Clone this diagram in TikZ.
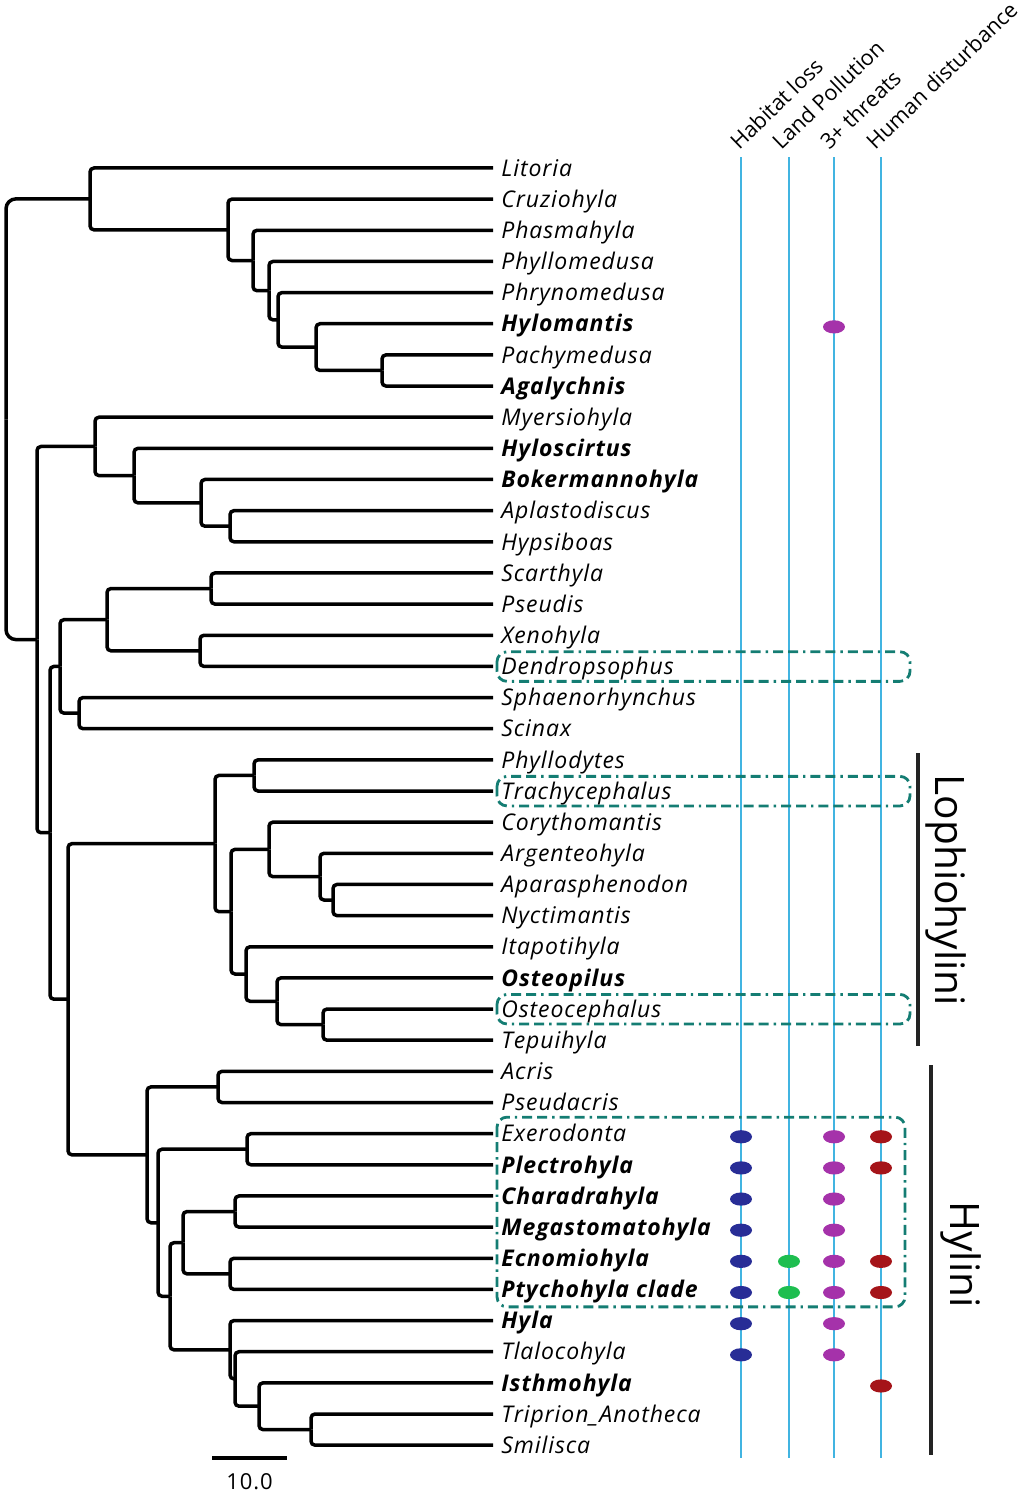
\documentclass[tikz,border=0pt]{standalone}
\usepackage{fontspec}
\setmainfont{Open Sans}[LetterSpace=4]
\newfontfamily\headfont{Open Sans}
\usepackage{tikz}
\usetikzlibrary{calc, positioning}
\definecolor{threatcol}{RGB}{65,180,225}
\definecolor{boxcol}{RGB}{20,125,115}
\definecolor{barcol}{RGB}{35,35,35}
\definecolor{dotblue}{RGB}{40,45,150}
\definecolor{dotgreen}{RGB}{30,190,80}
\definecolor{dotpurple}{RGB}{165,50,170}
\definecolor{dotred}{RGB}{165,20,25}

\begin{document}
\begin{tikzpicture}[x=0.5pt, y=-15.575pt,
    branch/.style={line width=1.75pt, rounded corners=2pt},
    taxon/.style={anchor=west, inner xsep=4pt, inner ysep=0pt, text height=8.2pt, text depth=0pt, font=\fontsize{11.5}{13}\selectfont\itshape},
    taxonb/.style={taxon, font=\fontsize{11.5}{13}\selectfont\bfseries\itshape},
    threat/.style={line width=1pt, draw=threatcol},
    head/.style={anchor=base west, rotate=44, inner sep=0pt, font=\headfont\fontsize{10.8}{12}\selectfont},
    cladebox/.style={draw=boxcol, line width=1.4pt, rounded corners=5pt, dash pattern=on 5pt off 2.5pt on 5pt off 2.5pt on 1.2pt off 2.5pt},
    cladebar/.style={line width=2.2pt, draw=barcol},
    cladename/.style={anchor=base, rotate=-90, inner sep=0pt, font=\headfont\fontsize{20.3}{24}\selectfont}]

            % Khung hình
            \useasboundingbox (0,-5.393) rectangle (1024,42.504);

            % Đường đe dọa và tiêu đề
            \foreach \x in {741,789,834,881}
                \draw[threat] (\x,-0.35) -- (\x,41.41);
            \node[head] (hdhabitat) at (739,-0.55) {Habitat loss};
            \node[head] (hdland) at (781,-0.55) {Land Pollution};
            \node[head] (hdthree) at (829,-0.55) {3+ threats};
            \node[head] (hdhuman) at (875,-0.55) {Human disturbance};

            % Khung nét đứt
            \draw[cladebox] (497,15.53) rectangle (910,16.48);
            \draw[cladebox] (497,19.53) rectangle (910,20.48);
            \draw[cladebox] (497,26.53) rectangle (910,27.48);
            \draw[cladebox] (497,30.47) rectangle (905,36.56);

            % Tên các chi
            \node[taxon] (litoria) at (493,0) {Litoria};
            \node[taxon] (cruziohyla) at (493,1) {Cruziohyla};
            \node[taxon] (phasmahyla) at (493,2) {Phasmahyla};
            \node[taxon] (phyllomedusa) at (493,3) {Phyllomedusa};
            \node[taxon] (phrynomedusa) at (493,4) {Phrynomedusa};
            \node[taxonb] (hylomantis) at (493,5) {Hylomantis};
            \node[taxon] (pachymedusa) at (493,6) {Pachymedusa};
            \node[taxonb] (agalychnis) at (493,7) {Agalychnis};
            \node[taxon] (myersiohyla) at (493,8) {Myersiohyla};
            \node[taxonb] (hyloscirtus) at (493,9) {Hyloscirtus};
            \node[taxonb] (bokermannohyla) at (493,10) {Bokermannohyla};
            \node[taxon] (aplastodiscus) at (493,11) {Aplastodiscus};
            \node[taxon] (hypsiboas) at (493,12) {Hypsiboas};
            \node[taxon] (scarthyla) at (493,13) {Scarthyla};
            \node[taxon] (pseudis) at (493,14) {Pseudis};
            \node[taxon] (xenohyla) at (493,15) {Xenohyla};
            \node[taxon] (dendropsophus) at (493,16) {Dendropsophus};
            \node[taxon] (sphaenorhynchus) at (493,17) {Sphaenorhynchus};
            \node[taxon] (scinax) at (493,18) {Scinax};
            \node[taxon] (phyllodytes) at (493,19) {Phyllodytes};
            \node[taxon] (trachycephalus) at (493,20) {Trachycephalus};
            \node[taxon] (corythomantis) at (493,21) {Corythomantis};
            \node[taxon] (argenteohyla) at (493,22) {Argenteohyla};
            \node[taxon] (aparasphenodon) at (493,23) {Aparasphenodon};
            \node[taxon] (nyctimantis) at (493,24) {Nyctimantis};
            \node[taxon] (itapotihyla) at (493,25) {Itapotihyla};
            \node[taxonb] (osteopilus) at (493,26) {Osteopilus};
            \node[taxon] (osteocephalus) at (493,27) {Osteocephalus};
            \node[taxon] (tepuihyla) at (493,28) {Tepuihyla};
            \node[taxon] (acris) at (493,29) {Acris};
            \node[taxon] (pseudacris) at (493,30) {Pseudacris};
            \node[taxon] (exerodonta) at (493,31) {Exerodonta};
            \node[taxonb] (plectrohyla) at (493,32) {Plectrohyla};
            \node[taxonb] (charadrahyla) at (493,33) {Charadrahyla};
            \node[taxonb] (megastomatohyla) at (493,34) {Megastomatohyla};
            \node[taxonb] (ecnomiohyla) at (493,35) {Ecnomiohyla};
            \node[taxonb] (ptychohyla) at (493,36) {Ptychohyla clade};
            \node[taxonb] (hyla) at (493,37) {Hyla};
            \node[taxon] (tlalocohyla) at (493,38) {Tlalocohyla};
            \node[taxonb] (isthmohyla) at (493,39) {Isthmohyla};
            \node[taxon] (triprion) at (493,40) {Triprion\_Anotheca};
            \node[taxon] (smilisca) at (493,41) {Smilisca};

            % Các nút trong của cây
            \coordinate (root) at (6,8.07);
            \coordinate (pa1) at (90,0.99);
            \coordinate (pa2) at (228,1.985);
            \coordinate (pa3) at (253,2.97);
            \coordinate (pa4) at (269,3.94);
            \coordinate (pa5) at (278,4.875);
            \coordinate (pa6) at (316,5.75);
            \coordinate (pa7) at (382,6.5);
            \coordinate (hy) at (37,15.14);
            \coordinate (c1) at (95,8.94);
            \coordinate (c2) at (134,9.875);
            \coordinate (c3) at (201,10.75);
            \coordinate (c4) at (230,11.5);
            \coordinate (cc) at (50,21.34);
            \coordinate (d0) at (60,16);
            \coordinate (d1) at (107,14.5);
            \coordinate (d2) at (211,13.5);
            \coordinate (d3) at (200,15.5);
            \coordinate (d4) at (79,17.5);
            \coordinate (lh) at (68,26.685);
            \coordinate (l0) at (215,21.69);
            \coordinate (l1) at (254,19.5);
            \coordinate (l2) at (231,23.875);
            \coordinate (l3) at (269,21.875);
            \coordinate (l4) at (320,22.75);
            \coordinate (l5) at (333,23.5);
            \coordinate (l6) at (246,25.875);
            \coordinate (l7) at (277,26.75);
            \coordinate (l8) at (323,27.5);
            \coordinate (h0) at (147,31.68);
            \coordinate (h1) at (218,29.5);
            \coordinate (hb) at (158,33.86);
            \coordinate (h3) at (247,31.5);
            \coordinate (h2) at (170,36.22);
            \coordinate (h4) at (183,34.5);
            \coordinate (h5) at (235,33.5);
            \coordinate (h6) at (230,35.5);
            \coordinate (h7) at (230,37.94);
            \coordinate (h8) at (235,38.875);
            \coordinate (h9) at (259,39.75);
            \coordinate (h10) at (311,40.5);

            % Vẽ các nhánh
            \draw[branch, rounded corners=5pt] (root) |- (pa1);
            \draw[branch, rounded corners=5pt] (root) |- (hy);
            \foreach \p/\c in {pa1/litoria.west, pa1/pa2, pa2/cruziohyla.west, pa2/pa3,
                    pa3/phasmahyla.west, pa3/pa4, pa4/phyllomedusa.west, pa4/pa5,
                    pa5/phrynomedusa.west, pa5/pa6, pa6/hylomantis.west, pa6/pa7,
                    pa7/pachymedusa.west, pa7/agalychnis.west,
                    hy/c1, hy/cc, c1/myersiohyla.west, c1/c2, c2/hyloscirtus.west, c2/c3,
                    c3/bokermannohyla.west, c3/c4, c4/aplastodiscus.west, c4/hypsiboas.west,
                    cc/d0, cc/lh, d0/d1, d0/d4, d1/d2, d1/d3,
                    d2/scarthyla.west, d2/pseudis.west, d3/xenohyla.west, d3/dendropsophus.west,
                    d4/sphaenorhynchus.west, d4/scinax.west,
                    lh/l0, lh/h0, l0/l1, l0/l2, l1/phyllodytes.west, l1/trachycephalus.west,
                    l2/l3, l2/l6, l3/corythomantis.west, l3/l4, l4/argenteohyla.west, l4/l5,
                    l5/aparasphenodon.west, l5/nyctimantis.west,
                    l6/itapotihyla.west, l6/l7, l7/osteopilus.west, l7/l8,
                    l8/osteocephalus.west, l8/tepuihyla.west,
                    h0/h1, h0/hb, h1/acris.west, h1/pseudacris.west, hb/h3, hb/h2,
                    h3/exerodonta.west, h3/plectrohyla.west, h2/h4, h2/h7, h4/h5, h4/h6,
                    h5/charadrahyla.west, h5/megastomatohyla.west,
                    h6/ecnomiohyla.west, h6/ptychohyla.west,
                    h7/hyla.west, h7/h8, h8/tlalocohyla.west, h8/h9,
                    h9/isthmohyla.west, h9/h10, h10/triprion.west, h10/smilisca.west}
                \draw[branch] (\p) |- (\c);

            % Chấm đe dọa
            \foreach \r in {31,...,38}
                \fill[dotblue] (741,\r+0.1) ellipse (5.5pt and 3.3pt);
            \foreach \r in {35,36}
                \fill[dotgreen] (789,\r+0.1) ellipse (5.5pt and 3.3pt);
            \foreach \r in {5,31,32,33,34,35,36,37,38}
                \fill[dotpurple] (834,\r+0.1) ellipse (5.5pt and 3.3pt);
            \foreach \r in {31,32,35,36,39}
                \fill[dotred] (881,\r+0.1) ellipse (5.5pt and 3.3pt);

            % Ghi chú nhóm
            \draw[cladebar] (918,18.78) -- (918,28.19);
            \node[cladename] (lophiohylini) at (935,23.19) {Lophiohylini};
            \draw[cladebar] (931,28.80) -- (931,41.32);
            \node[cladename] (hylini) at (950,34.88) {Hylini};

            % Thước tỉ lệ
            \coordinate (sbleft) at (212,41.41);
            \coordinate (sbright) at (287,41.41);
            \draw[branch] (sbleft) -- (sbright);
            \node[anchor=north, inner sep=0pt, below=7.5pt of $(sbleft)!0.5!(sbright)$, font=\fontsize{11}{13}\selectfont] (scalelabel) {10.0};

\end{tikzpicture}
\end{document}
